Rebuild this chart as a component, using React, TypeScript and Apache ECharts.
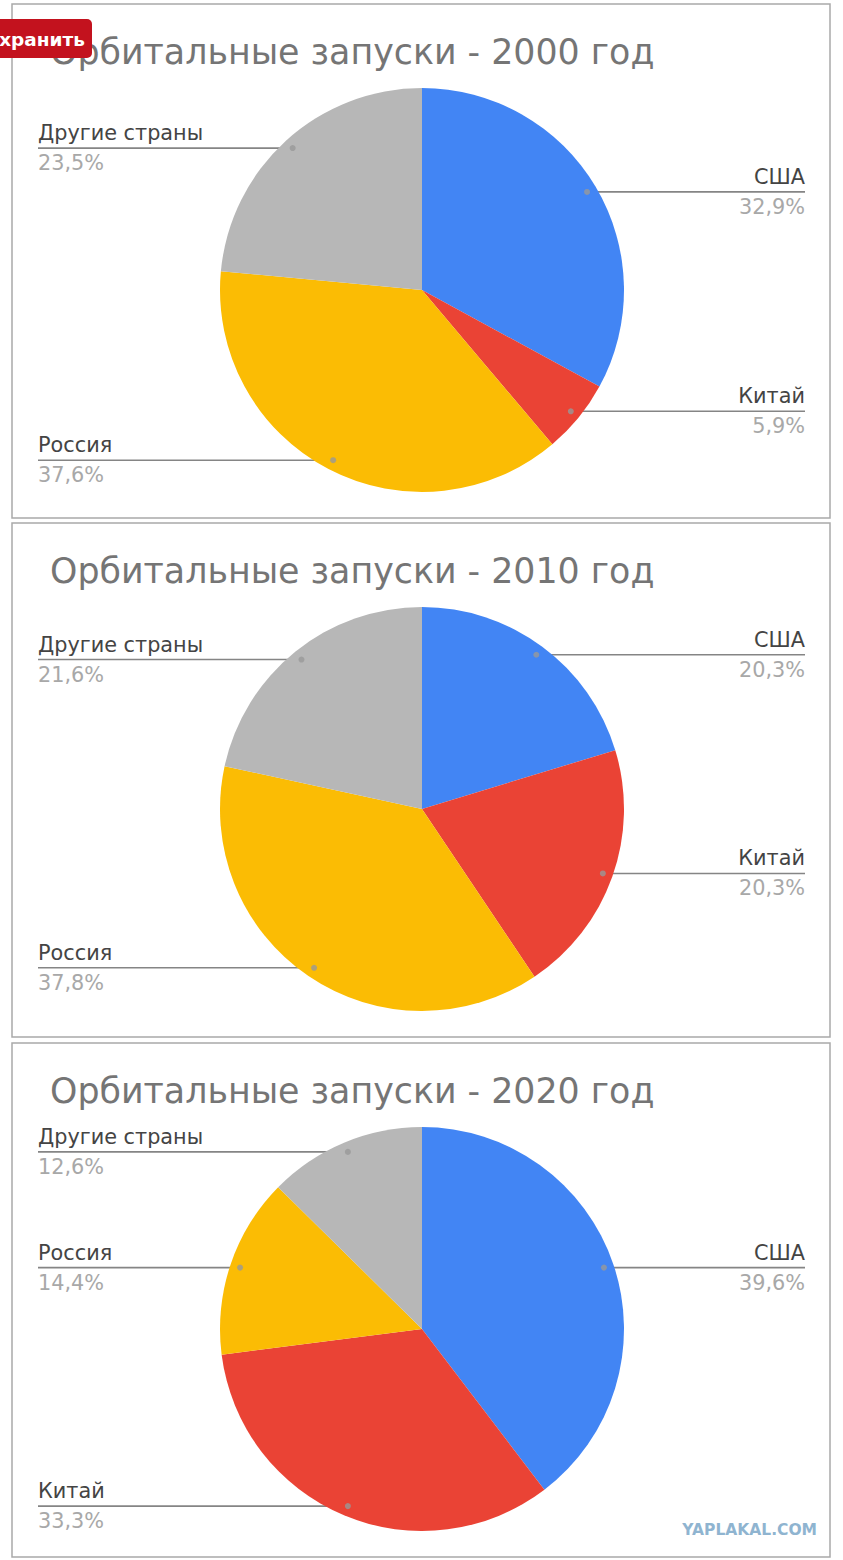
import React, { useEffect, useRef } from "react";
import * as echarts from "echarts";

const categories = ["США", "Китай", "Россия", "Другие страны"];
const years = ["2000", "2010", "2020"];
const share2000 = [32.9, 5.9, 37.6, 23.5];
const share2010 = [20.3, 20.3, 37.8, 21.6];
const share2020 = [39.6, 33.3, 14.4, 12.6];
const sliceColors = ["#4285F4", "#EA4335", "#FBBC04", "#B7B7B7"];

const shares = [share2000, share2010, share2020];

// layout
const W = 843;
const H = 1560;
const panelTops = [4, 523, 1043];
const panelH = 514;
const panelX = 12;
const panelW = 818;
const cx = 422;
const pieOffsetY = 286;
const R = 202;
const dotR = 192;
const rightEdge = 805;
const leftEdge = 38;
const FONT = "'DejaVu Sans', 'Liberation Sans', Arial, sans-serif";

function fmt(v: number) {
  return v.toFixed(1).replace(".", ",") + "%";
}

function midFraction(vals: number[], i: number) {
  const total = vals.reduce((a, b) => a + b, 0);
  let acc = 0;
  for (let k = 0; k < i; k++) acc += vals[k];
  return (acc + vals[i] / 2) / total;
}

export default function App() {
  const ref = useRef<HTMLDivElement>(null);

  useEffect(() => {
    if (!ref.current) return;
    const chart = echarts.init(ref.current, null, { renderer: "svg" });

    const titles = years.map((y, p) => ({
      text: "Орбитальные запуски - " + y + " год",
      left: 50,
      top: panelTops[p] + 30,
      padding: 0,
      textStyle: {
        fontFamily: FONT,
        fontSize: 34.8,
        fontWeight: "normal" as const,
        color: "#757575",
        lineHeight: 36,
      },
    }));

    const pieSeries = shares.map((vals, p) => {
      const cy = panelTops[p] + pieOffsetY;
      return {
        type: "pie" as const,
        center: [cx, cy],
        radius: R,
        startAngle: 90,
        clockwise: true,
        avoidLabelOverlap: false,
        silent: true,
        itemStyle: { borderWidth: 0 },
        data: categories.map((c, i) => ({
          name: c,
          value: vals[i],
          itemStyle: { color: sliceColors[i] },
        })),
        label: {
          show: true,
          position: "outside" as const,
          formatter: (prm: any) => "{n|" + prm.name + "}\n{v|" + fmt(prm.value) + "}",
          rich: {
            n: { fontFamily: FONT, fontSize: 20.8, color: "#444444", lineHeight: 30 },
            v: { fontFamily: FONT, fontSize: 20.8, color: "#a8a8a8", lineHeight: 30 },
          },
        },
        labelLine: {
          show: true,
          lineStyle: { color: "#858585", width: 1.6 },
        },
        labelLayout: (prm: any) => {
          const i = prm.dataIndex;
          const f = midFraction(vals, i);
          const a = f * Math.PI * 2;
          const dx = Math.sin(a);
          const dy = -Math.cos(a);
          const px = cx + dotR * dx;
          const py = cy + dotR * dy;
          const right = dx > 0;
          const edge = right ? rightEdge : leftEdge;
          return {
            x: edge,
            y: py,
            align: right ? "right" : "left",
            verticalAlign: "middle",
            labelLinePoints: [
              [px, py],
              [(px + edge) / 2, py],
              [edge, py],
            ],
          };
        },
      };
    });

    const dotSeries = shares.map((vals, p) => ({
      type: "scatter" as const,
      coordinateSystem: "polar",
      polarIndex: p,
      symbol: "circle",
      symbolSize: 6,
      silent: true,
      z: 5,
      itemStyle: { color: "#999999" },
      data: categories.map((c, i) => [dotR, midFraction(vals, i) * 100]),
    }));

    const polar = shares.map((_, p) => ({
      center: [cx, panelTops[p] + pieOffsetY],
      radius: R,
    }));
    const angleAxis = shares.map((_, p) => ({
      polarIndex: p,
      type: "value" as const,
      min: 0,
      max: 100,
      startAngle: 90,
      clockwise: true,
      show: false,
    }));
    const radiusAxis = shares.map((_, p) => ({
      polarIndex: p,
      type: "value" as const,
      min: 0,
      max: R,
      show: false,
    }));

    const graphics: any[] = panelTops.map((t) => ({
      type: "rect",
      silent: true,
      z: -1,
      shape: { x: panelX, y: t, width: panelW, height: panelH },
      style: { fill: "#ffffff", stroke: "#a9a9a9", lineWidth: 1.5 },
    }));
    graphics.push({
      type: "rect",
      silent: true,
      z: 10,
      shape: { x: -10, y: 19, width: 102, height: 39, r: 5 },
      style: { fill: "#c3121e" },
    });
    graphics.push({
      type: "text",
      silent: true,
      z: 11,
      x: 85,
      y: 39,
      style: {
        text: "хранить",
        fill: "#ffffff",
        font: "bold 18.5px 'DejaVu Sans', sans-serif",
        align: "right",
        verticalAlign: "middle",
      },
    });
    graphics.push({
      type: "text",
      silent: true,
      z: 11,
      x: 817,
      y: 1530,
      style: {
        text: "YAPLAKAL.COM",
        fill: "#8fb4d0",
        font: "bold 15.5px 'DejaVu Sans', sans-serif",
        align: "right",
        verticalAlign: "middle",
      },
    });

    chart.setOption({
      animation: false,
      backgroundColor: "#ffffff",
      title: titles,
      polar,
      angleAxis,
      radiusAxis,
      graphic: graphics,
      series: [...pieSeries, ...dotSeries],
    });

    return () => chart.dispose();
  }, []);

  return (
    <div
      ref={ref}
      style={{ position: "absolute", left: 0, top: 0, width: W, height: H }}
    />
  );
}
